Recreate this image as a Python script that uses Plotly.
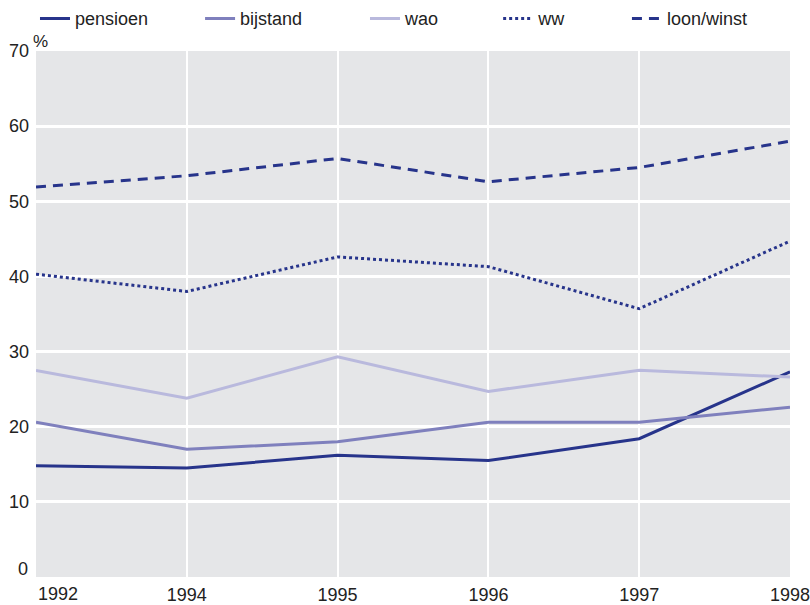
import plotly.graph_objects as go

years = ["1992", "1994", "1995", "1996", "1997", "1998"]
pensioen = [14.8, 14.5, 16.2, 15.5, 18.4, 27.3]
bijstand = [20.6, 17.0, 18.0, 20.6, 20.6, 22.6]
wao = [27.5, 23.8, 29.3, 24.7, 27.5, 26.6]
ww = [40.3, 38.0, 42.6, 41.3, 35.7, 44.7]
loon_winst = [51.9, 53.4, 55.7, 52.6, 54.5, 58.0]

y_ticks = [0, 10, 20, 30, 40, 50, 60, 70]
y_tick_text = ["", "10", "20", "30", "40", "50", "60", "70"]
x_tick_text = [""] + years[1:]

DARK = "#27348b"
MID = "#7f80bd"
LIGHT = "#b9b9dd"
FONT = "Liberation Sans Narrow, Liberation Sans, Arial, sans-serif"
TXT = "#222"

series = [
    ("pensioen", pensioen, dict(color=DARK, width=3), "legend"),
    ("bijstand", bijstand, dict(color=MID, width=3), "legend2"),
    ("wao", wao, dict(color=LIGHT, width=3), "legend3"),
    ("ww", ww, dict(color=DARK, width=3, dash="dot"), "legend4"),
    ("loon/winst", loon_winst, dict(color=DARK, width=3, dash="10px,7px"), "legend5"),
]

fig = go.Figure()
for name, vals, line, leg in series:
    fig.add_trace(go.Scatter(x=years, y=vals, mode="lines", name=name,
                             line=line, legend=leg))

legend_x = [0.0432, 0.247, 0.4506, 0.615, 0.774]
leg_common = dict(orientation="h", yanchor="middle", y=0.969, yref="container",
                  xref="container", xanchor="left",
                  bgcolor="rgba(0,0,0,0)", font=dict(family=FONT, size=18, color=TXT),
                  itemwidth=30, tracegroupgap=0)
layout_legends = {}
for i, lx in enumerate(legend_x):
    key = "legend" if i == 0 else f"legend{i+1}"
    layout_legends[key] = dict(leg_common, x=lx)

fig.update_layout(
    width=810, height=605,
    margin=dict(l=36, r=20, t=51, b=28, autoexpand=False),
    plot_bgcolor="#e5e6e8",
    paper_bgcolor="white",
    font=dict(family=FONT, size=18, color=TXT),
    showlegend=True,
    **layout_legends,
)
fig.update_xaxes(type="category", range=[0, 5], showgrid=True, gridcolor="white",
                 gridwidth=2, ticks="", showline=False, zeroline=False, automargin=False,
                 tickvals=years, ticktext=x_tick_text, ticklabelstandoff=5,
                 tickfont=dict(family=FONT, size=18, color=TXT))
fig.update_yaxes(range=[0, 70], tickvals=y_ticks, ticktext=y_tick_text, showgrid=True,
                 gridcolor="white", gridwidth=3, ticks="", showline=False, zeroline=False,
                 automargin=False, ticklabelstandoff=6,
                 tickfont=dict(family=FONT, size=18, color=TXT))
# shifted edge labels, as in the reference
fig.add_annotation(text=years[0], xref="paper", yref="paper", x=0, y=0,
                   xanchor="left", yanchor="top", showarrow=False, yshift=-5,
                   font=dict(family=FONT, size=18, color=TXT))
fig.add_annotation(text=str(y_ticks[0]), xref="paper", yref="y", x=0, y=y_ticks[0],
                   xanchor="right", yanchor="bottom", showarrow=False, xshift=-6, yshift=-4,
                   font=dict(family=FONT, size=18, color=TXT))
fig.add_annotation(text="%", xref="paper", yref="paper", x=0, y=1, xanchor="left",
                   yanchor="bottom", showarrow=False, xshift=-5, yshift=-2,
                   font=dict(family=FONT, size=17, color=TXT))

fig.write_html("out.html", config={"displayModeBar": False},
               post_script="document.body.style.margin='0';document.body.style.overflow='hidden';")
